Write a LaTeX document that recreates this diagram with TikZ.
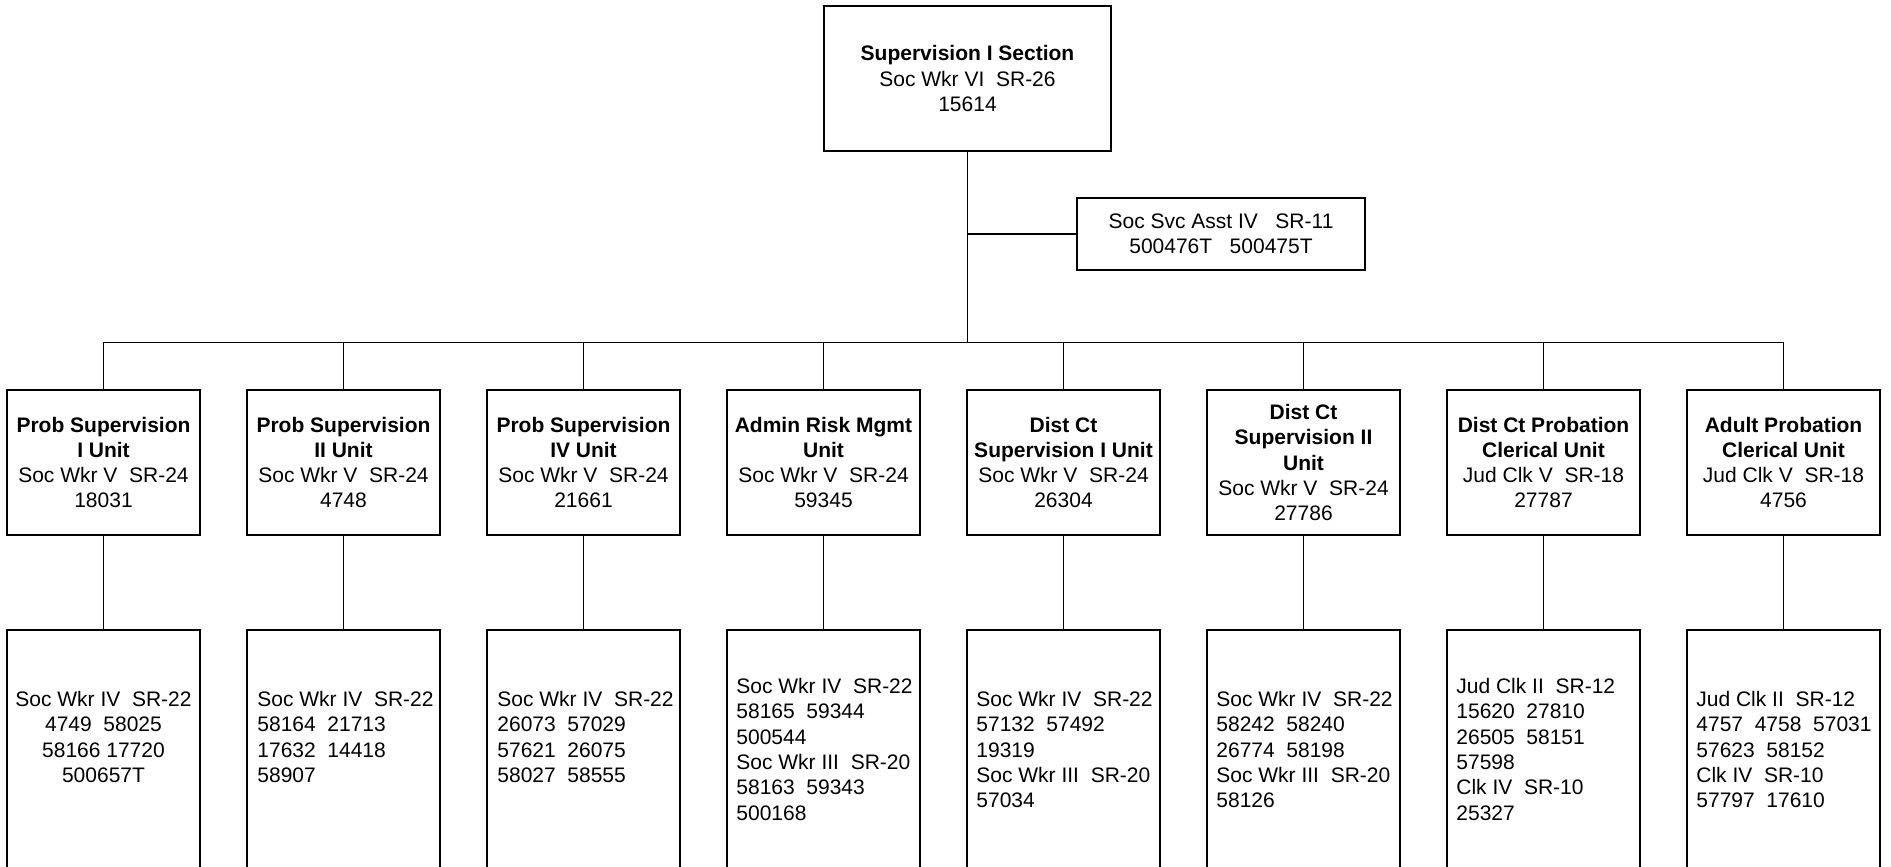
\documentclass[tikz,border=0pt]{standalone}
\usepackage{fontspec}
\setmainfont{Liberation Sans}
\begin{document}
\begin{tikzpicture}[x=0.5pt,y=-0.5pt,
  box/.style={draw=black,line width=1pt,fill=white,inner sep=0pt,outer sep=0pt},
  unitbox/.style={box,minimum width=96.5pt,minimum height=72.5pt},
  lowbox/.style={box,minimum width=96.5pt,minimum height=140pt},
  txt/.style={font=\fontsize{10.5}{12.65}\selectfont,inner sep=0pt,align=center},
  ltxt/.style={font=\fontsize{10.5}{12.65}\selectfont,inner sep=0pt,align=left,anchor=north west},
  conn/.style={draw=black,line width=0.6pt}]
\useasboundingbox (0,0) rectangle (1891,867);
\clip (0,0) rectangle (1891,867);
% top
\node[box,minimum width=143.5pt,minimum height=72.5pt,txt] (top) at (967.5,78.5)
  {\textbf{Supervision I Section}\\Soc Wkr VI\ \ SR-26\\15614};
\node[box,minimum width=144pt,minimum height=36pt,txt] (asst) at (1221,234)
  {Soc Svc Asst IV\ \ \ SR-11\\500476T\ \ \ 500475T};
\coordinate (bus) at (967.5,342.5);
% unit boxes
\node[unitbox,txt] (u1) at (103.5,462.5) {\textbf{Prob Supervision}\\\textbf{I Unit}\\Soc Wkr V\ \ SR-24\\18031};
\node[unitbox,txt] (u2) at (343.5,462.5) {\textbf{Prob Supervision}\\\textbf{II Unit}\\Soc Wkr V\ \ SR-24\\4748};
\node[unitbox,txt] (u3) at (583.5,462.5) {\textbf{Prob Supervision}\\\textbf{IV Unit}\\Soc Wkr V\ \ SR-24\\21661};
\node[unitbox,txt] (u4) at (823.5,462.5) {\textbf{Admin Risk Mgmt}\\\textbf{Unit}\\Soc Wkr V\ \ SR-24\\59345};
\node[unitbox,txt] (u5) at (1063.5,462.5) {\textbf{Dist Ct}\\\textbf{Supervision I Unit}\\Soc Wkr V\ \ SR-24\\26304};
\node[unitbox,txt] (u6) at (1303.5,462.5) {\textbf{Dist Ct}\\\textbf{Supervision II}\\\textbf{Unit}\\Soc Wkr V\ \ SR-24\\27786};
\node[unitbox,txt] (u7) at (1543.5,462.5) {\textbf{Dist Ct Probation}\\\textbf{Clerical Unit}\\Jud Clk V\ \ SR-18\\27787};
\node[unitbox,txt] (u8) at (1783.5,462.5) {\textbf{Adult Probation}\\\textbf{Clerical Unit}\\Jud Clk V\ \ SR-18\\4756};
% lower boxes
\foreach \i/\x in {1/103.5,2/343.5,3/583.5,4/823.5,5/1063.5,6/1303.5,7/1543.5,8/1783.5}
  \node[lowbox] (l\i) at (\x,770) {};
% lower texts
\node[txt,anchor=north] (t1) at (103.5,691) {Soc Wkr IV\ \ SR-22\\4749\ \ 58025\\58166 17720\\500657T};
\node[ltxt] (t2) at (257,691) {Soc Wkr IV\ \ SR-22\\58164\ \ 21713\\17632\ \ 14418\\58907};
\node[ltxt] (t3) at (497,691) {Soc Wkr IV\ \ SR-22\\26073\ \ 57029\\57621\ \ 26075\\58027\ \ 58555};
\node[ltxt] (t4) at (736,678) {Soc Wkr IV\ \ SR-22\\58165\ \ 59344\\500544\\Soc Wkr III\ \ SR-20\\58163\ \ 59343\\500168};
\node[ltxt] (t5) at (976,691) {Soc Wkr IV\ \ SR-22\\57132\ \ 57492\\19319\\Soc Wkr III\ \ SR-20\\57034};
\node[ltxt] (t6) at (1216,691) {Soc Wkr IV\ \ SR-22\\58242\ \ 58240\\26774\ \ 58198\\Soc Wkr III\ \ SR-20\\58126};
\node[ltxt] (t7) at (1456,678) {Jud Clk II\ \ SR-12\\15620\ \ 27810\\26505\ \ 58151\\57598\\Clk IV\ \ SR-10\\25327};
\node[ltxt] (t8) at (1696,691) {Jud Clk II\ \ SR-12\\4757\ \ 4758\ \ 57031\\57623\ \ 58152\\Clk IV\ \ SR-10\\57797\ \ 17610};
% connectors
\draw[conn] (top.south) -- (bus);
\draw[conn] (asst.west) -- (top.south |- asst.west);
\draw[conn] (u1.north) -- (u1.north |- bus) -- (u8.north |- bus) -- (u8.north);
\foreach \i in {2,...,7} \draw[conn] (u\i.north) -- (u\i.north |- bus);
\foreach \i in {1,...,8} \draw[conn] (u\i.south) -- (l\i.north);
\end{tikzpicture}
\end{document}
